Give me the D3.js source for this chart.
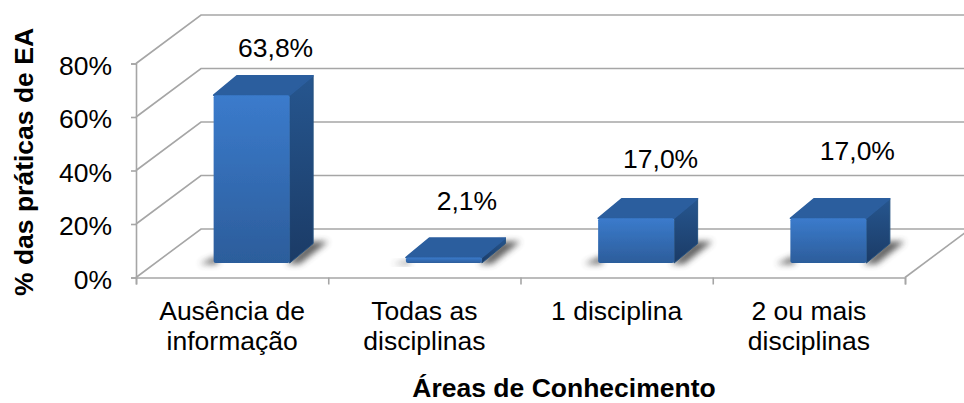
<!DOCTYPE html>
<html><head><meta charset="utf-8">
<script src="https://cdn.jsdelivr.net/npm/d3@7"></script>
<style>html,body{margin:0;padding:0;background:#fff}svg{display:block}text{font-family:"Liberation Sans",Arial,sans-serif;fill:#000}</style>
</head><body><div id="c"></div>
<script>
const categories = ["Ausência de|informação","Todas as|disciplinas","1 disciplina","2 ou mais|disciplinas"];
const values = [63.8,2.1,17.0,17.0];
const valueLabels = ["63,8%","2,1%","17,0%","17,0%"];
const yTicks = [0,20,40,60,80];
const xTitle = "Áreas de Conhecimento";
const yTitle = "% das práticas de EA";

const W=964,H=403;
const x=d3.scaleBand().domain(categories).range([136,905]).paddingInner(0).paddingOuter(0);
const y=d3.scaleLinear().domain([0,80]).range([277.5,63.5]);
const barHeight=d3.scaleLinear().domain([0,80]).range([0,210.5]);
const wallDx=65, wallDy=-48.5;
const barFloorDx=19.5, barFloorDy=-14.5, barDx=23.5, barDy=-19.5, barW=76;
const labelLift=[18.7,27.6,30.9,38.9];
const labelShift=[24,23,24.5,29];

const svg=d3.select("#c").append("svg").attr("width",W).attr("height",H);
const defs=svg.append("defs");
function grad(id,stops){const g=defs.append("linearGradient").attr("id",id).attr("x1",0).attr("y1",0).attr("x2",0).attr("y2",1);
 stops.forEach(s=>g.append("stop").attr("offset",s[0]).attr("stop-color",s[1]));}
grad("front",[[0,"#3b7bcc"],[1,"#2c5d9b"]]);
grad("side",[[0,"#26568f"],[1,"#1b3b66"]]);
const bl=defs.append("filter").attr("id","blur").attr("x","-50%").attr("y","-100%").attr("width","200%").attr("height","300%");
bl.append("feGaussianBlur").attr("stdDeviation",3);
defs.append("filter").attr("id","soft").append("feGaussianBlur").attr("stdDeviation",0.5);

const grid="#a6a6a6";
const g=svg.append("g").attr("fill","none").attr("stroke",grid).attr("stroke-width",1.6);
yTicks.forEach(t=>{
  const p=d3.path();p.moveTo(x.range()[0],y(t));p.lineTo(x.range()[0]+wallDx,y(t)+wallDy);p.lineTo(W,y(t)+wallDy);
  g.append("path").attr("d",p);
});
const fp=d3.path();fp.moveTo(x.range()[1],y(0));fp.lineTo(x.range()[1]+wallDx,y(0)+wallDy);
g.append("path").attr("d",fp);

const yAxis=d3.axisLeft(y).tickValues(yTicks).tickSize(5).tickFormat(d=>d+"%").tickPadding(19);
const ya=svg.append("g").attr("transform",`translate(${x.range()[0]},0)`).call(yAxis);
const xTickScale=d3.scaleLinear().domain([0,categories.length]).range(x.range());
const xAxis=d3.axisBottom(xTickScale).tickValues(d3.range(categories.length+1)).tickSize(7).tickFormat("");
const xa=svg.append("g").attr("transform",`translate(0,${y(0)})`).call(xAxis);
[ya,xa].forEach(a=>{a.selectAll("path,line").attr("stroke",grid).attr("stroke-width",1.6);});
ya.selectAll("text").attr("font-size",26.5).attr("dy","0.41em").attr("fill","#000").style("font-family",'"Liberation Sans"');

const bars=svg.selectAll("g.bar").data(categories.map((c,i)=>({c,v:values[i],l:valueLabels[i],lift:labelLift[i],shift:labelShift[i]}))).join("g");
bars.each(function(d){
  const s=d3.select(this);
  const cx=x(d.c)+x.bandwidth()/2+barFloorDx;
  const l=cx-barW/2, r=cx+barW/2;
  const base=y(0)+barFloorDy, top=base-barHeight(d.v);
  const poly=pts=>"M"+pts.map(p=>p.join(",")).join("L")+"Z";
  const sh=Math.min(1,(base-top)/20);
  s.append("path").attr("filter","url(#blur)").attr("fill","#444").attr("opacity",.85)
    .attr("d",poly([[l-14,base+1],[l+4,base-7*sh],[l+4,base+1]]));
  s.append("path").attr("filter","url(#blur)").attr("fill","#444").attr("opacity",.85)
    .attr("d",poly([[r-3,base+1],[r+barDx-3,base+barDy-2],[r+barDx+15,base+barDy-2],[r+10,base+1]]));
  s.append("path").attr("fill","url(#side)").attr("stroke","#23507f").attr("stroke-width",1).attr("stroke-linejoin","round")
    .attr("d",poly([[r,top],[r+barDx,top+barDy],[r+barDx,base+barDy],[r,base]]));
  s.append("path").attr("fill","#2b5e9e").attr("stroke","#2b5e9e").attr("stroke-width",1.5).attr("stroke-linejoin","round")
    .attr("d",poly([[l,top],[l+barDx,top+barDy],[r+barDx,top+barDy],[r,top]]));
  s.append("rect").attr("x",l).attr("y",top).attr("width",barW).attr("height",base-top).attr("rx",2)
    .attr("fill","url(#front)").attr("filter","url(#soft)");
  s.append("text").attr("x",cx+d.shift).attr("y",top+barDy-d.lift).attr("text-anchor","middle").attr("font-size",26.5).text(d.l);
});

svg.selectAll("text.cat").data(categories).join("text").attr("class","cat")
  .attr("text-anchor","middle").attr("font-size",26.5)
  .attr("transform",d=>`translate(${x(d)+x.bandwidth()/2},319.5)`)
  .each(function(d){d3.select(this).selectAll("tspan").data(d.split("|")).join("tspan")
     .attr("x",0).attr("dy",(t,i)=>i?30.5:0).text(t=>t);});

svg.append("text").attr("x",564).attr("y",397.3).attr("text-anchor","middle").attr("font-size",26.5).attr("font-weight","bold").text(xTitle);
svg.append("text").attr("transform","translate(33,162) rotate(-90)").attr("text-anchor","middle").attr("font-size",26.5).attr("font-weight","bold").text(yTitle);
</script></body></html>
